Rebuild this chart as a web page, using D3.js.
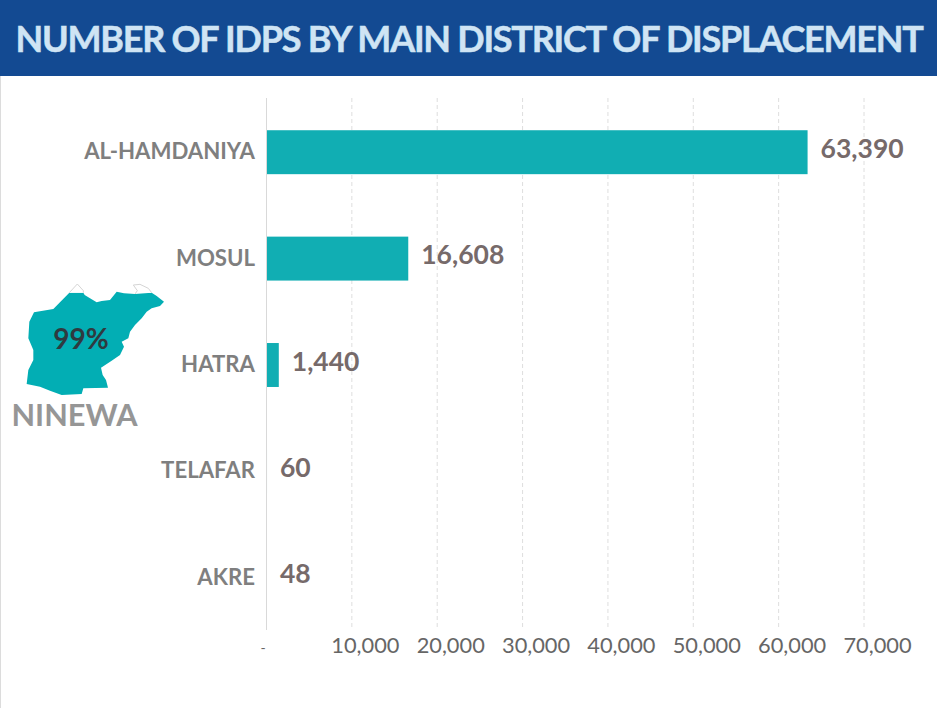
<!DOCTYPE html>
<html>
<head>
<meta charset="utf-8">
<script src="https://cdn.jsdelivr.net/npm/d3@7"></script>
<style>
  html, body { margin: 0; padding: 0; background: #fff; }
  svg { display: block; }
  text { font-family: Lato, sans-serif; }
</style>
</head>
<body>
<div id="figure-holder"></div>
<script>
const districts = ['AL-HAMDANIYA', 'MOSUL', 'HATRA', 'TELAFAR', 'AKRE'];
const idps = [63390, 16608, 1440, 60, 48];
const xTicks = [0, 10000, 20000, 30000, 40000, 50000, 60000, 70000];

// governorate outline (x, y in map units)
const ninewaOutline = [[208,68],[250,68],[254,75],[270,85],[290,97],[305,93],[330,90],[350,65],[372,70],[405,72],[412,68],[455,68],[470,78],[492,95],[480,108],[455,115],[440,125],[425,145],[405,165],[390,185],[385,205],[365,215],[372,230],[360,255],[335,272],[303,293],[308,315],[318,330],[324,353],[250,355],[245,372],[185,375],[150,362],[120,350],[80,342],[85,300],[100,270],[100,240],[85,205],[88,155],[102,127],[160,117]];
const ninewaScraps = [
    [[208,68],[232,42],[250,62],[250,68]],
    [[405,72],[412,62],[400,45],[420,43],[445,55],[455,68]]
];

const width = 937, height = 708;
const plot = { left: 266.5, right: 864, top: 98, bottom: 630 };

const svg = d3.select('#figure-holder').append('svg')
    .attr('width', width)
    .attr('height', height);

svg.append('rect').attr('width', width).attr('height', height).style('fill', '#fff');
svg.append('rect').attr('x', 0).attr('y', 76).attr('width', 1).attr('height', height - 76).style('fill', '#dcdcdc');

// header band
svg.append('rect').attr('width', width).attr('height', 76).style('fill', '#134a92');
svg.append('text')
    .text('NUMBER OF IDPS BY MAIN DISTRICT OF DISPLACEMENT')
    .attr('x', 469)
    .attr('y', 52)
    .attr('text-anchor', 'middle')
    .style('font-size', '36px')
    .style('font-weight', 700)
    .style('letter-spacing', '-1.25px')
    .style('stroke', '#cfe4f4')
    .style('stroke-width', 0.5)
    .style('fill', '#cfe4f4');

const x = d3.scaleLinear()
    .domain([0, 70000])
    .range([plot.left, plot.right]);

const y = d3.scaleBand()
    .domain(districts)
    .range([plot.top + 1, plot.bottom + 1])
    .paddingInner(0.587)
    .paddingOuter(0.2935);

// gridlines
svg.append('g')
    .selectAll('line')
    .data(xTicks.slice(1))
    .join('line')
    .attr('x1', d => x(d))
    .attr('x2', d => x(d))
    .attr('y1', plot.top)
    .attr('y2', plot.bottom)
    .style('stroke', '#dedede')
    .style('stroke-width', 1)
    .style('stroke-dasharray', '4 3');

// bars
svg.append('g')
    .selectAll('rect')
    .data(districts)
    .join('rect')
    .attr('x', x(0))
    .attr('y', d => y(d))
    .attr('width', (d, i) => x(idps[i]) - x(0))
    .attr('height', y.bandwidth())
    .style('fill', '#11aeb3');

// baseline
svg.append('line')
    .attr('x1', x(0))
    .attr('x2', x(0))
    .attr('y1', plot.top)
    .attr('y2', plot.bottom)
    .style('stroke', '#d9d9d9')
    .style('stroke-width', 1);

// value labels
svg.append('g')
    .selectAll('text')
    .data(districts)
    .join('text')
    .text((d, i) => d3.format(',')(idps[i]))
    .attr('x', (d, i) => x(idps[i]) + 13)
    .attr('y', d => y(d) + y.bandwidth() / 2 + 5.5)
    .style('font-size', '26.5px')
    .style('font-weight', 700)
    .style('fill', '#766a6a');

// category labels
svg.append('g')
    .selectAll('text')
    .data(districts)
    .join('text')
    .text(d => d)
    .attr('x', 255)
    .attr('y', d => y(d) + y.bandwidth() / 2 + 7)
    .attr('text-anchor', 'end')
    .style('font-size', '22.2px')
    .style('font-weight', 700)
    .style('fill', '#7f7f7f');

// x axis labels
svg.append('g')
    .selectAll('text')
    .data(xTicks)
    .join('text')
    .text(d => d === 0 ? '-' : d3.format(',')(d))
    .attr('x', d => d === 0 ? 263 : x(d) + 13.5)
    .attr('y', 653)
    .attr('text-anchor', 'middle')
    .style('font-size', d => d === 0 ? '14px' : '21.8px')
    .style('fill', '#666');

// inset map, traced in the zoomed crop so scale it back down
const mapX = d3.scaleLinear().domain([0, 600]).range([0, 200]);
const mapY = d3.scaleLinear().domain([0, 510]).range([270, 440]);
const mapLine = d3.line().x(d => mapX(d[0])).y(d => mapY(d[1]));

svg.append('path')
    .attr('d', mapLine(ninewaOutline) + 'Z')
    .style('fill', '#02aeb4');

svg.append('g')
    .selectAll('path')
    .data(ninewaScraps)
    .join('path')
    .attr('d', mapLine)
    .style('fill', '#fff')
    .style('stroke', '#d5d5d5')
    .style('stroke-width', 1);

svg.append('text')
    .text('99%')
    .attr('x', 81)
    .attr('y', 349)
    .attr('text-anchor', 'middle')
    .style('font-size', '28px')
    .style('font-weight', 700)
    .style('fill', '#2f3a40');

svg.append('text')
    .text('NINEWA')
    .attr('x', 74.5)
    .attr('y', 426)
    .attr('text-anchor', 'middle')
    .style('font-size', '30.7px')
    .style('font-weight', 700)
    .style('fill', '#969696');
</script>
</body>
</html>
